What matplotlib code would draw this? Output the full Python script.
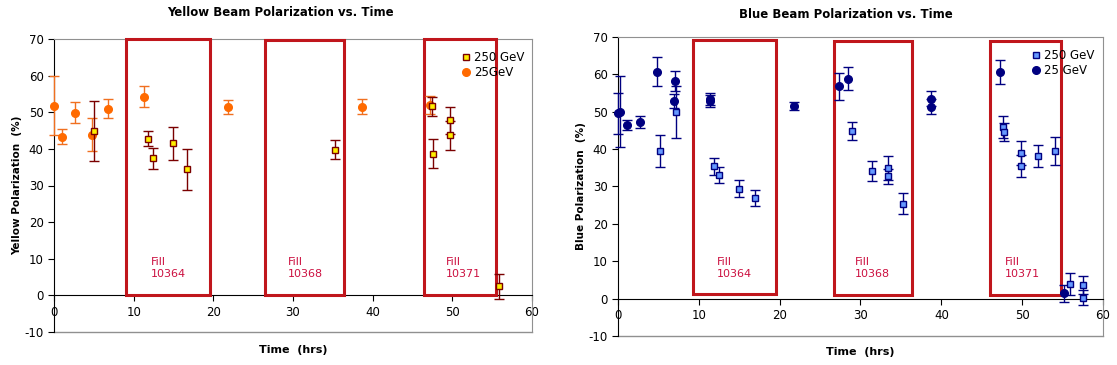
import numpy as np
import matplotlib
matplotlib.use('Agg')
import matplotlib.pyplot as plt
from matplotlib.lines import Line2D
from matplotlib.patches import Rectangle

plt.rcParams['axes.unicode_minus'] = False

# yellow beam, 25 GeV
y25_t = [0, 0.96, 2.64, 4.78, 6.75, 11.3, 21.8, 38.7, 47.2]
y25_p = [51.8, 43.3, 49.9, 43.8, 51.0, 54.2, 51.5, 51.5, 52.0]
y25_e = [8.0, 2.0, 2.8, 4.5, 2.6, 2.9, 1.9, 2.1, 2.5]

# yellow beam, 250 GeV
y250_t = [5.07, 11.74, 12.4, 14.9, 16.7, 35.3, 47.5, 47.6, 49.7, 49.7, 55.9]
y250_p = [45.0, 42.8, 37.4, 41.5, 34.4, 39.8, 51.7, 38.7, 47.8, 43.7, 2.5]
y250_e = [8.2, 2.0, 2.9, 4.6, 5.6, 2.6, 2.6, 3.9, 3.7, 3.9, 3.4]

# blue beam, 25 GeV
b25_t = [0, 0.3, 1.1, 2.7, 4.8, 6.9, 7.05, 11.4, 11.4, 21.8, 27.35, 28.5, 38.7, 38.7, 47.3, 55.2]
b25_p = [49.5, 50.0, 46.4, 47.2, 60.6, 52.8, 58.2, 53.3, 52.7, 51.5, 56.8, 58.8, 53.4, 51.3, 60.6, 1.4]
b25_e = [5.5, 9.5, 1.4, 1.6, 3.9, 1.8, 2.6, 1.6, 1.6, 1.1, 3.6, 3.0, 2.0, 2.0, 3.2, 2.3]

# blue beam, 250 GeV
b250_t = [5.2, 7.2, 11.9, 12.5, 15.0, 16.9, 28.9, 31.4, 33.4, 33.4, 35.3,
          47.6, 47.7, 49.8, 49.8, 51.9, 54.1, 55.9, 57.5, 57.5]
b250_p = [39.4, 49.9, 35.4, 33.0, 29.4, 26.9, 44.8, 34.1, 34.9, 32.7, 25.3,
          45.8, 44.5, 38.9, 35.5, 38.1, 39.4, 3.9, 3.6, 0.2]
b250_e = [4.3, 7.0, 2.3, 2.2, 2.2, 2.1, 2.4, 2.8, 3.3, 2.0, 2.8,
          3.0, 2.4, 3.3, 3.0, 3.0, 3.7, 2.9, 2.4, 2.0]

# fill boxes (t_start, t_end, p_low, p_high) and labels
fills = ['10364', '10368', '10371']
y_boxes = [(9.1, 19.6, 0, 70), (26.5, 36.4, 0, 69.7), (46.5, 55.5, 0.2, 70)]
y_label_t = [12.1, 29.3, 49.2]
b_boxes = [(9.3, 19.6, 1.1, 69.1), (26.7, 36.4, 0.9, 68.9), (46.0, 54.8, 0.9, 68.9)]
b_label_t = [12.2, 29.3, 47.9]

box_col = '#c0161c'
txt_col = '#cc1040'

W, H = 1117, 365
fig = plt.figure(figsize=(W/100, H/100), dpi=100)
axL = fig.add_axes([54/W, 1-332/H, 478/W, 293/H])
axR = fig.add_axes([618/W, 1-336/H, 485/W, 299.3/H])


def setup(ax, legend_names, sq_face, sq_edge, ci_col):
    ax.set_xlim(0, 60)
    ax.set_ylim(-10, 70)
    ax.set_xticks(range(0, 61, 10))
    ax.set_yticks(range(-10, 71, 10))
    ax.spines['bottom'].set_position(('data', 0))
    ax.spines['bottom'].set_color('black')
    ax.spines['left'].set_color('black')
    ax.spines['top'].set_color('#909090')
    ax.spines['right'].set_color('#909090')
    ax.axhline(-10, color='#909090', lw=1, clip_on=False, zorder=0)
    ax.tick_params(direction='out', length=4, labelsize=8.5, width=0.8)
    handles = [
        Line2D([], [], ls='none', marker='s', ms=5, mfc=sq_face, mec=sq_edge, mew=1),
        Line2D([], [], ls='none', marker='o', ms=5.5, mfc=ci_col, mec=ci_col),
    ]
    ax.legend(handles, legend_names, loc='upper left', bbox_to_anchor=(0.845, 0.975),
              frameon=False, fontsize=8.5, handlelength=0.6, handletextpad=0.4,
              labelspacing=0.15, borderaxespad=0)


def boxes(ax, box_list, label_t, label_p):
    for (t0, t1, p0, p1), lt, name in zip(box_list, label_t, fills):
        ax.add_patch(Rectangle((t0, p0), t1 - t0, p1 - p0, fill=False,
                               ec=box_col, lw=2.2, clip_on=False, zorder=3))
        ax.text(lt, label_p, 'Fill\n' + name, color=txt_col, fontsize=8,
                ha='left', va='center', linespacing=1.3)


# yellow
boxes(axL, y_boxes, y_label_t, 7.5)
axL.errorbar(y25_t, y25_p, yerr=y25_e, fmt='o', ms=5.5, color='#ff6a00',
             ecolor='#f07020', elinewidth=1, capsize=3.5, zorder=4, clip_on=False)
axL.errorbar(y250_t, y250_p, yerr=y250_e, fmt='s', ms=5, mfc='#ffee00', mec='#7a0000',
             mew=1, ecolor='#7a0000', elinewidth=1, capsize=3.5, zorder=5, clip_on=False)
setup(axL, ['250 GeV', '25GeV'], '#ffee00', '#7a0000', '#ff6a00')

# blue
boxes(axR, b_boxes, b_label_t, 8.2)
axR.errorbar(b25_t, b25_p, yerr=b25_e, fmt='o', ms=5.5, color='#000080',
             ecolor='#000080', elinewidth=1, capsize=3.5, zorder=4, clip_on=False)
axR.errorbar(b250_t, b250_p, yerr=b250_e, fmt='s', ms=5, mfc='#6699ff', mec='#000080',
             mew=1, ecolor='#000080', elinewidth=1, capsize=3.5, zorder=5, clip_on=False)
setup(axR, ['250 GeV', '25 GeV'], '#6699ff', '#000080', '#000080')

# titles and axis labels
fig.text(280/W, 1-13/H, 'Yellow Beam Polarization vs. Time', fontsize=8.5,
         fontweight='bold', ha='center', va='center')
fig.text(846/W, 1-14/H, 'Blue Beam Polarization vs. Time', fontsize=8.5,
         fontweight='bold', ha='center', va='center')
fig.text(293/W, 1-350/H, 'Time  (hrs)', fontsize=8, fontweight='bold', ha='center', va='center')
fig.text(860/W, 1-352/H, 'Time  (hrs)', fontsize=8, fontweight='bold', ha='center', va='center')
fig.text(17/W, 1-185/H, 'Yellow Polarization  (%)', fontsize=7.5, fontweight='bold',
         ha='center', va='center', rotation=90)
fig.text(581/W, 1-186/H, 'Blue Polarization  (%)', fontsize=7.5, fontweight='bold',
         ha='center', va='center', rotation=90)

fig.savefig('out.png', dpi=100)
